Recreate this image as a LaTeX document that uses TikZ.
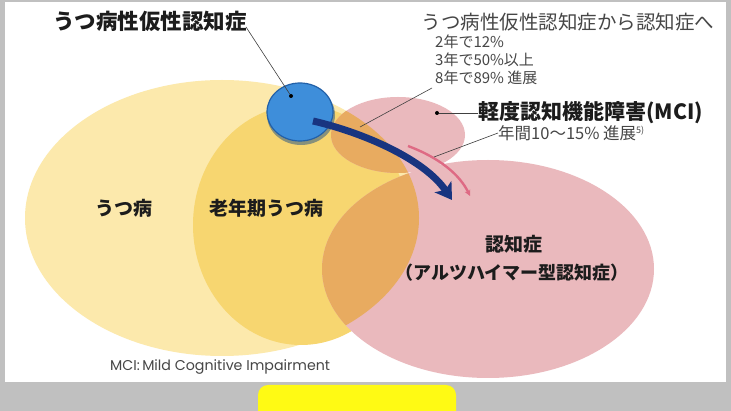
\documentclass[tikz,border=0pt]{standalone}
\usepackage{fontspec}
\setmainfont{Noto Sans CJK JP}
\newfontfamily\capfont{Poppins}
\usetikzlibrary{arrows.meta}

\definecolor{framegray}{RGB}{192,192,192}
\definecolor{marker}{RGB}{255,250,20}
\definecolor{paleyellow}{RGB}{252,233,172}
\definecolor{midyellow}{RGB}{247,214,112}
\definecolor{rosepink}{RGB}{234,185,189}
\definecolor{overlap}{RGB}{232,171,96}
\definecolor{pseudoblue}{RGB}{62,142,218}
\definecolor{pseudorim}{RGB}{34,96,168}
\definecolor{navy}{RGB}{24,52,128}
\definecolor{progress}{RGB}{222,106,132}
\definecolor{inkblack}{RGB}{28,28,28}
\definecolor{inkgray}{RGB}{70,70,70}

\begin{document}
\begin{tikzpicture}[x=1pt,y=-1pt,
    every node/.style={inner sep=0pt},
    label/.style={font=\bfseries\fontsize{19}{19}\selectfont, text=inkblack},
    note/.style={font=\fontsize{15}{18}\selectfont, text=inkgray, align=left},
    dot/.style={circle, fill=black, minimum size=4pt},
    leader/.style={draw=black!75, line width=0.6pt}]

    \useasboundingbox (0,0) rectangle (731,411);

    % Frame
    \fill[framegray] (0,0) rectangle (731,411);
    \fill[white] (5,2) rectangle (726,382);
    \fill[marker, rounded corners=10pt] (258,385) rectangle (456,425);

    % Depression circles
    \fill[paleyellow] (222,218) ellipse [x radius=197pt, y radius=138pt];
    \fill[midyellow] (301,225) ellipse [x radius=108pt, y radius=120pt];

    % Dementia and MCI circles
    \fill[rosepink] (488,269) ellipse [x radius=166pt, y radius=109pt];
    \fill[rosepink] (398,135) ellipse [x radius=67pt, y radius=38pt];

    % Overlaps
    \begin{scope}
        \clip (222,218) ellipse [x radius=197pt, y radius=138pt];
        \fill[overlap] (488,269) ellipse [x radius=166pt, y radius=109pt];
        \fill[overlap] (398,135) ellipse [x radius=67pt, y radius=38pt];
    \end{scope}

    % Pseudo-dementia circle
    \fill[pseudorim!80!black, opacity=0.5] (301,115) ellipse [x radius=34pt, y radius=30pt];
    \fill[pseudoblue, draw=pseudorim, line width=1.2pt] (300,112) ellipse [x radius=33pt, y radius=29pt];
    \node[dot] (blueDot) at (291,96) {};

    % Progress arrows
    \coordinate (navyFrom) at (313,121);
    \coordinate (navyTo) at (452,200);
    \draw[navy, line width=7pt, -{Stealth[length=16pt, width=20pt, inset=4pt]}]
        (navyFrom) .. controls (365,133) and (425,160) .. (navyTo);

    \coordinate (mciFrom) at (408,146);
    \coordinate (mciTo) at (470,196);
    \coordinate (mciMid) at (434,157);
    \draw[progress, line width=2.4pt, -{Stealth[length=6pt, width=6pt]}]
        (mciFrom) .. controls (440,158) and (460,175) .. (mciTo);

    % Top labels
    \node[label, font=\bfseries\fontsize{21.5}{22}\selectfont] (pseudo) at (150,21) {うつ病性仮性認知症};
    \coordinate (pseudoEnd) at (246,27);
    \draw[leader] (pseudoEnd) -- (blueDot);

    \node[note, font=\fontsize{19.5}{20}\selectfont] (route) at (568,22) {うつ病性仮性認知症から認知症へ};
    \node[note, anchor=north west] (rates) at (435,35) {2年で12\%\\3年で50\%以上\\8年で89\% 進展};
    \coordinate (ratesEnd) at (432,88);
    \coordinate (ratesTo) at (360,127);
    \draw[leader] (ratesEnd) -- (ratesTo);

    % MCI labels
    \node[dot] (mciDot) at (437,113) {};
    \node[label, font=\bfseries\fontsize{21}{21}\selectfont, anchor=west] (mci) at (478,113) {軽度認知機能障害(MCI)};
    \draw[leader] (mciDot) -- (mci.west);

    \node[note, font=\fontsize{16.5}{17}\selectfont, anchor=west] (mciRate) at (498,133)
        {年間10～15\% 進展\raisebox{6pt}{\fontsize{9}{9}\selectfont 5)}};
    \draw[leader] (mciRate.west) -- (mciMid);

    % Circle labels
    \node[label] (depression) at (124,208) {うつ病};
    \node[label] (lateLife) at (266,208) {老年期うつ病};
    \node[label] (dementia) at (514,244) {認知症};
    \node[label, font=\bfseries\fontsize{18}{18}\selectfont] (alzheimer) at (512,273) {（アルツハイマー型認知症）};

    % Footnote
    \node[anchor=west, text=inkgray, font=\capfont\fontsize{14.2}{15}\selectfont] (footnote) at (110,367)
        {MCI:\,Mild Cognitive Impairment};
\end{tikzpicture}
\end{document}
